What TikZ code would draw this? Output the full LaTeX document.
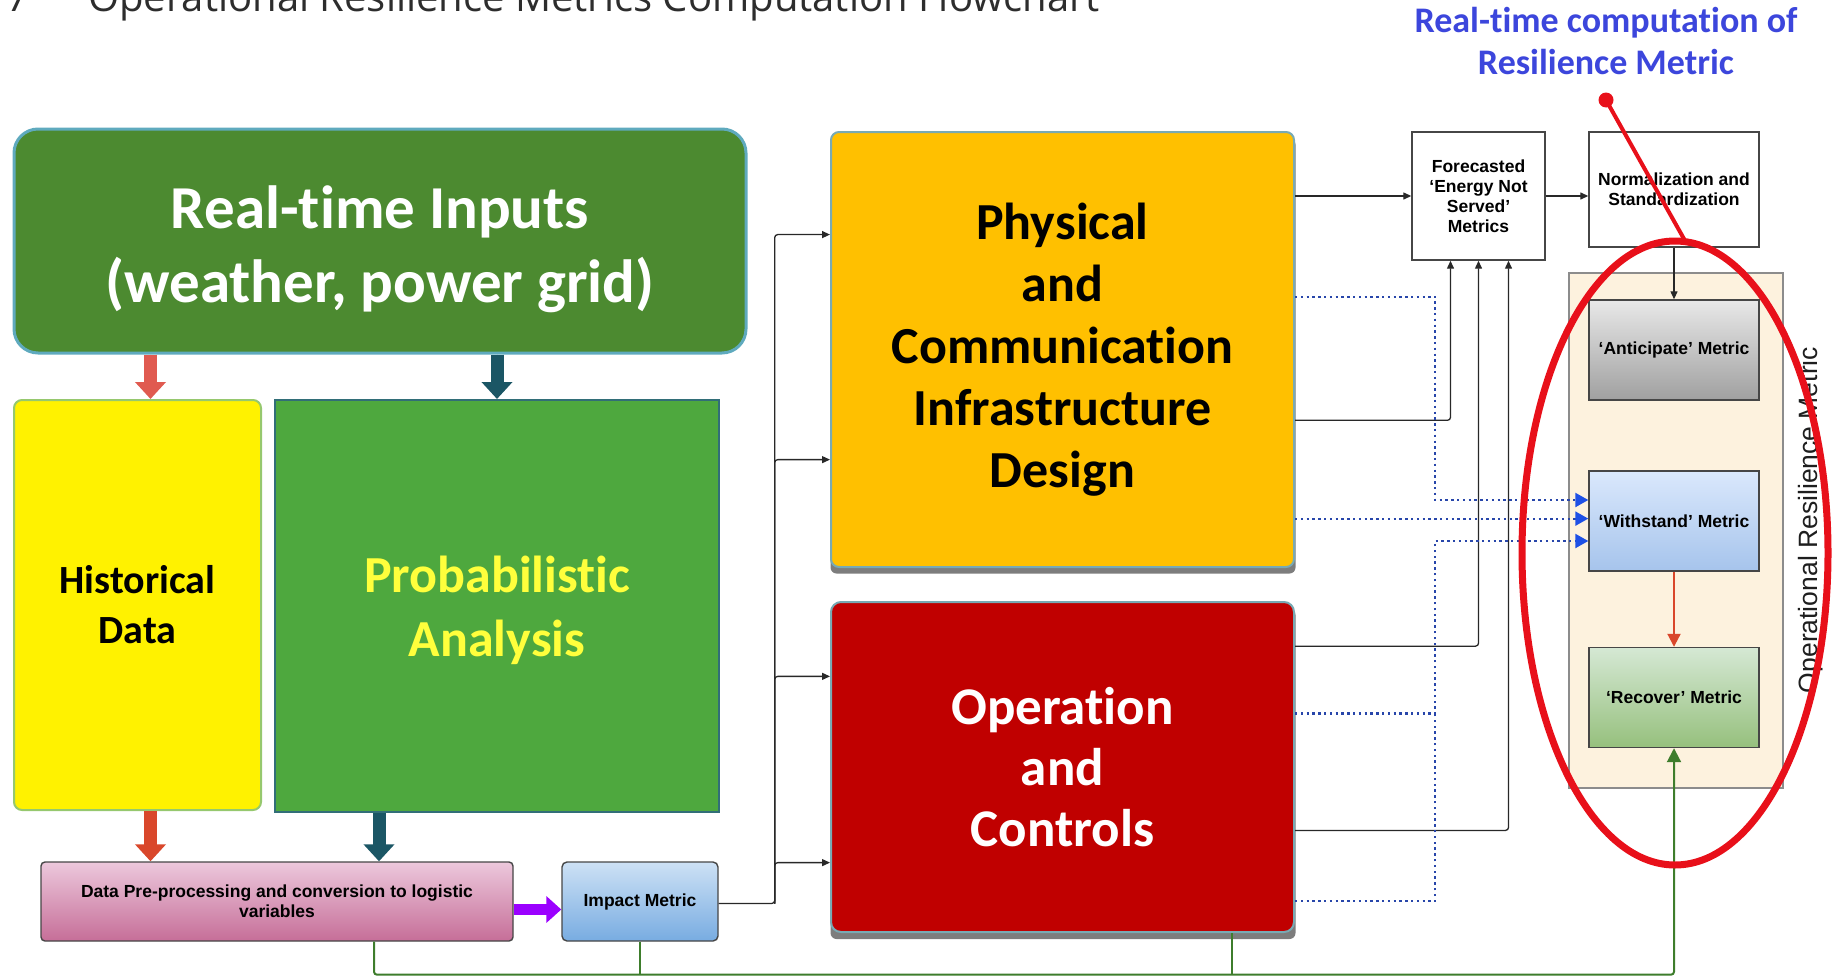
\documentclass[tikz,border=0pt]{standalone}
\usepackage{fontspec}
\setmainfont{Carlito}[Ligatures={TeX,NoCommon}]
\newfontfamily\arialf{Liberation Sans}[Ligatures=TeX]
\newfontfamily\capf{Open Sans}[Ligatures=TeX]
\usetikzlibrary{arrows.meta,calc,shapes.geometric}
\definecolor{ingreen}{RGB}{76,138,48}
\definecolor{inborder}{RGB}{95,170,190}
\definecolor{probgreen}{RGB}{78,168,62}
\definecolor{probedge}{RGB}{50,110,120}
\definecolor{histedge}{RGB}{150,200,110}
\definecolor{probtext}{RGB}{255,255,60}
\definecolor{physor}{RGB}{255,192,0}
\definecolor{operred}{RGB}{192,0,0}
\definecolor{boxedge}{RGB}{120,170,180}
\definecolor{shadowgray}{RGB}{125,125,125}
\definecolor{arrred}{RGB}{217,71,43}
\definecolor{arrsalmon}{RGB}{224,90,80}
\definecolor{arrteal}{RGB}{27,86,101}
\definecolor{arrpurple}{RGB}{155,0,255}
\definecolor{dotblue}{RGB}{40,70,170}
\definecolor{tipblue}{RGB}{30,80,230}
\definecolor{fbgreen}{RGB}{62,125,44}
\definecolor{titleblue}{RGB}{60,70,220}
\definecolor{contfill}{RGB}{253,242,222}
\definecolor{contedge}{RGB}{140,140,140}
\definecolor{ovalred}{RGB}{232,16,26}
\definecolor{captext}{RGB}{45,45,45}
\definecolor{darktext}{RGB}{30,30,30}
\definecolor{smalledge}{RGB}{70,70,70}
\definecolor{connc}{RGB}{40,40,40}
\definecolor{pretop}{RGB}{236,200,220}
\definecolor{prebot}{RGB}{198,110,152}
\definecolor{imptop}{RGB}{205,225,245}
\definecolor{impbot}{RGB}{120,172,225}
\definecolor{antop}{RGB}{232,232,232}
\definecolor{anbot}{RGB}{160,160,160}
\definecolor{wtop}{RGB}{218,232,252}
\definecolor{wbot}{RGB}{166,196,236}
\definecolor{rtop}{RGB}{213,232,212}
\definecolor{rbot}{RGB}{150,192,125}
\begin{document}
\begin{tikzpicture}[x=1pt,y=-1pt,
  bigbox/.style={inner sep=0pt, align=center, line width=2pt},
  smallbox/.style={draw=smalledge, line width=1.4pt, inner sep=0pt, align=center,
     font=\arialf\bfseries\fontsize{17.5}{20}\selectfont},
  metricbox/.style={smallbox, minimum width=170pt, minimum height=100pt},
  conn/.style={draw=connc, line width=1.3pt, rounded corners=3pt,
     -{Triangle[length=8pt,width=7pt]}},
  dotc/.style={draw=dotblue, line width=2.2pt, dash pattern=on 2.4pt off 3.4pt,
     -{Triangle[length=13pt,width=14pt,fill=tipblue,color=tipblue]}},
  blockarr/.style={line width=13pt, -{Triangle[length=17pt,width=30pt]}},
  fbline/.style={draw=fbgreen, line width=2pt, rounded corners=3pt}
]
\useasboundingbox (0,0) rectangle (1845,980);
\clip (0,0) rectangle (1845,980);

% caption (cut at top, as in the reference)
\node[anchor=base west, inner sep=0pt, font=\capf\fontsize{40}{44}\selectfont, text=captext] (capnum) at (6,11) {7};
\node[anchor=base west, inner sep=0pt, font=\capf\fontsize{40}{44}\selectfont, text=captext] (cap) at (88,11) {Operational Resilience Metrics Computation Flowchart};

% title
\node[text=titleblue, font=\fontsize{36}{42}\selectfont\bfseries, align=center] (title) at (1606,41) {Real-time computation of\\Resilience Metric};

% left column
\node[bigbox, draw=inborder, line width=3pt, fill=ingreen, rounded corners=24pt, minimum width=732pt, minimum height=224pt] (inputs) at (380,241) {};
\node[text=white, align=center, font=\fontsize{61}{74}\selectfont\bfseries] (inputstxt) at ($(inputs.center)+(0,8)$) {Real-time Inputs\\(weather, power grid)};
\node[bigbox, draw=histedge, fill=yellow, rounded corners=8pt, minimum width=247pt, minimum height=410pt,
  font=\fontsize{40}{50}\selectfont\bfseries] (hist) at (137.5,605) {Historical\\Data};
\node[bigbox, draw=probedge, fill=probgreen, minimum width=444pt, minimum height=412pt] (prob) at (497,606) {};
\node[text=probtext, align=center, font=\fontsize{52}{64}\selectfont\bfseries] (probtxt) at ($(prob.center)+(0,4)$) {Probabilistic\\Analysis};
\node[smallbox, rounded corners=4pt, top color=pretop, bottom color=prebot,
  minimum width=472pt, minimum height=79pt] (pre) at (277,901.5) {Data Pre-processing and conversion to logistic\\variables};
\node[smallbox, rounded corners=5pt, top color=imptop, bottom color=impbot,
  minimum width=156pt, minimum height=79pt] (impact) at (640,901.5) {Impact Metric};

% middle column
\node[fill=shadowgray, rounded corners=6pt, minimum width=465pt, minimum height=435pt, inner sep=0pt] (physsh) at (1063,356) {};
\node[bigbox, draw=boxedge, fill=physor, rounded corners=8pt, minimum width=463pt, minimum height=435pt,
  font=\fontsize{52}{62}\selectfont\bfseries] (phys) at (1062.5,349.5) {Physical\\and\\Communication\\Infrastructure\\Design};
\node[fill=shadowgray, rounded corners=6pt, minimum width=465pt, minimum height=330pt, inner sep=0pt] (opersh) at (1063,774) {};
\node[bigbox, draw=boxedge, fill=operred, rounded corners=10pt, minimum width=463pt, minimum height=330pt,
  text=white, font=\fontsize{53}{61}\selectfont\bfseries] (oper) at (1062.5,767) {Operation\\and\\Controls};

% right column
\node[smallbox, fill=white, minimum width=133pt, minimum height=128pt] (fore) at (1478.5,196) {Forecasted\\`Energy Not\\Served'\\Metrics};
\node[smallbox, fill=white, minimum width=170pt, minimum height=115pt] (norm) at (1674,189.5) {Normalization and\\Standardization};
\node[draw=contedge, line width=1.4pt, fill=contfill, minimum width=214pt, minimum height=515pt, inner sep=0pt] (cont) at (1676,530.5) {};
\node[metricbox, top color=antop, bottom color=anbot] (antic) at (1674,350) {`Anticipate' Metric};
\node[metricbox, top color=wtop, bottom color=wbot] (with) at (1674,521) {`Withstand' Metric};
\node[metricbox, top color=rtop, bottom color=rbot] (recov) at (1674,697.5) {`Recover' Metric};
\node[rotate=90, font=\arialf\fontsize{26.5}{30}\selectfont, text=darktext] (contlab) at (1811,520) {Operational Resilience Metric};

% block arrows
\coordinate (hx) at ($(hist.south)+(13,0)$);
\coordinate (hxt) at ($(hist.north)+(13,0)$);
\coordinate (pxt) at (prob.north);
\coordinate (ppx) at ($(pre.north)+(102,0)$);
\draw[blockarr, draw=arrsalmon, fill=arrsalmon] (hxt |- inputs.south) -- (hxt);
\draw[blockarr, draw=arrteal, fill=arrteal] (pxt |- inputs.south) -- (pxt);
\draw[blockarr, draw=arrred, fill=arrred] (hx) -- (hx |- pre.north);
\draw[blockarr, draw=arrteal, fill=arrteal] (ppx |- prob.south) -- (ppx);
\draw[blockarr, line width=11pt, draw=arrpurple, fill=arrpurple, -{Triangle[length=15pt,width=26pt]}] ($(pre.east)+(0,8)$) -- ($(impact.west)+(0,8)$);

% impact -> phys / oper
\coordinate (bus) at ($(impact.east)+(56,2)$);
\coordinate (p1) at ($(phys.north west)!0.237!(phys.south west)$);
\coordinate (p2) at ($(phys.north west)!0.752!(phys.south west)$);
\coordinate (o1) at ($(oper.north west)!0.227!(oper.south west)$);
\coordinate (o2) at ($(oper.north west)!0.788!(oper.south west)$);
\draw[conn] ($(impact.east)+(0,2)$) -- (bus) |- (p1);
\draw[conn] (bus) |- (p2);
\draw[conn] (bus) |- (o1);
\draw[conn] (bus) |- (o2);

% to forecasted
\draw[conn] (phys.east |- fore.west) -- (fore.west);
\draw[conn] (fore.east) -- (fore.east -| norm.west);
\coordinate (fb1) at ($(fore.south)+(-28,0)$);
\coordinate (fb3) at ($(fore.south)+(30,0)$);
\coordinate (py) at ($(phys.north east)!0.662!(phys.south east)$);
\coordinate (oy1) at ($(oper.north east)!0.136!(oper.south east)$);
\coordinate (oy2) at ($(oper.north east)!0.691!(oper.south east)$);
\draw[conn] (py) -| (fb1);
\draw[conn] (oy1) -| (fore.south);
\draw[conn] (oy2) -| (fb3);

% dotted to withstand
\coordinate (dvx) at ($(fore.south west)+(24,0)$);
\coordinate (pd1) at ($(phys.north east)!0.379!(phys.south east)$);
\coordinate (pd2) at ($(phys.north east)!0.887!(phys.south east)$);
\coordinate (od1) at ($(oper.north east)!0.339!(oper.south east)$);
\coordinate (od2) at ($(oper.north east)!0.903!(oper.south east)$);
\coordinate (w1) at ($(with.west)+(0,-21)$);
\coordinate (w3) at ($(with.west)+(0,20)$);
\draw[dotc] (pd1) -- (pd1 -| dvx) |- (w1);
\draw[dotc] (pd2) -- (pd2 -| with.west);
\draw[dotc] (od1) -- (od1 -| dvx) |- (w3);
\draw[dotc, -] (od2) -- (od2 -| dvx) -- (od1 -| dvx);

% metric chain
\draw[conn] (norm.south) -- (antic.north);
\draw[draw=arrred, line width=2pt, -{Triangle[length=13pt,width=13pt,fill=arrred]}] (with.south) -- (recov.north);

% feedback
\coordinate (gb) at ($(pre.south)+(97,0)$);
\coordinate (gb2) at ($(gb)+(0,33)$);
\coordinate (ob) at ($(oper.south)+(169.5,0)$);
\draw[fbline, -{Triangle[length=14pt,width=14pt,fill=fbgreen]}] (gb) -- (gb2) -| (recov.south);
\draw[fbline] (impact.south) -- (impact.south |- gb2);
\draw[fbline] (ob) -- (ob |- gb2);

% highlight
\node[ellipse, draw=ovalred, line width=7pt, minimum width=306pt, minimum height=624pt, inner sep=0pt] (oval) at (1675,553) {};
\node[circle, fill=ovalred, minimum size=15pt, inner sep=0pt] (dot) at (1606,100) {};
\coordinate (ovtop) at ($(oval.north)+(11,5)$);
\draw[draw=ovalred, line width=4pt] (dot.center) -- (ovtop);
\end{tikzpicture}
\end{document}
